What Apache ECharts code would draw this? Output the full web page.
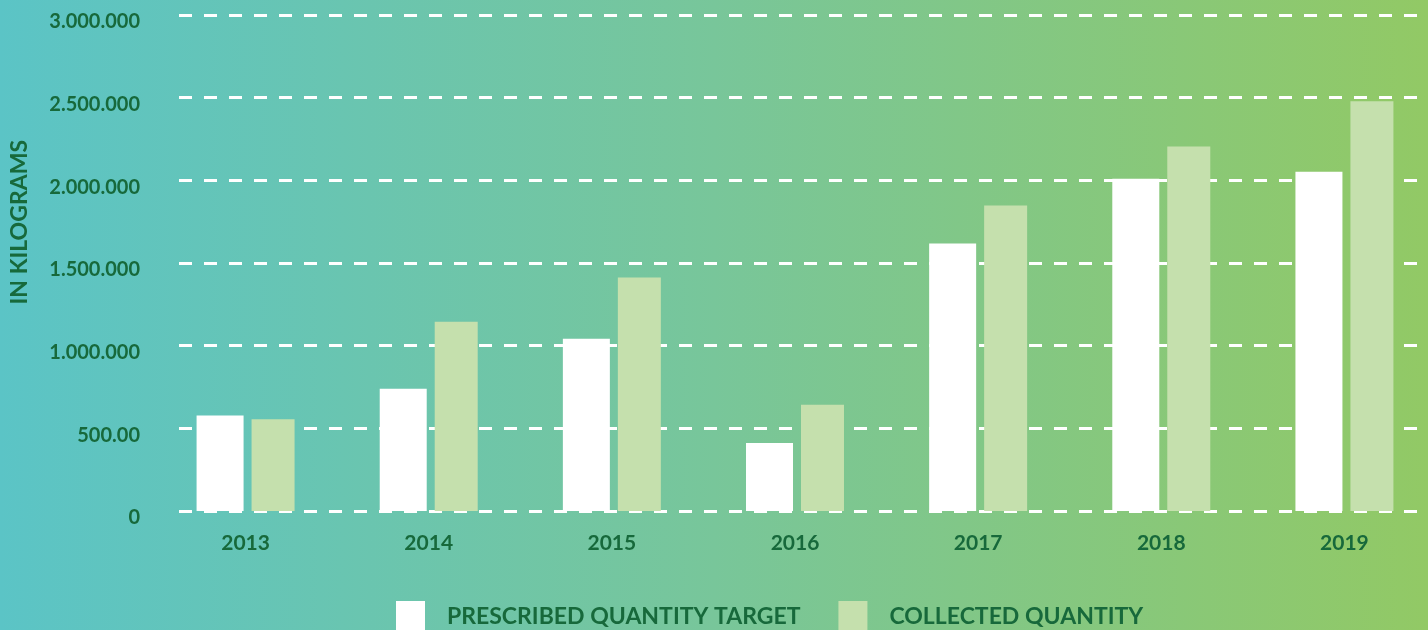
<!DOCTYPE html>
<html><head><meta charset="utf-8">
<script src="https://cdn.jsdelivr.net/npm/echarts@6/dist/echarts.min.js"></script>
<style>html,body{margin:0;padding:0;overflow:hidden;}#c{width:1428px;height:630px;}</style>
</head><body><div id="c"></div>
<script>
const years = ['2013','2014','2015','2016','2017','2018','2019'];
const prescribed = [578000, 740000, 1042000, 412000, 1618000, 2010000, 2052000];
const collected = [555000, 1145000, 1412000, 642000, 1848000, 2205000, 2478000];
const yTickLabels = ['0','500.00','1.000.000','1.500.000','2.000.000','2.500.000','3.000.000'];
const seriesNames = ['PRESCRIBED QUANTITY TARGET','COLLECTED QUANTITY'];
const axisTitle = 'IN KILOGRAMS';

const dark = '#17693b';
const font = 'Lato';
const chart = echarts.init(document.getElementById('c'));
chart.setOption({
  backgroundColor: {type:'linear', x:0, y:0, x2:1, y2:0, colorStops:[
    {offset:0, color:'#5bc4c6'}, {offset:0.5, color:'#78c69a'}, {offset:1, color:'#92c965'}]},
  animation:false,
  textStyle:{fontFamily:font},
  grid:[
    {left:154, width:1282, top:15, bottom:119, outerBoundsMode:'none', containLabel:false},
    {left:179, right:0, top:15, bottom:119, outerBoundsMode:'none'},
    {left:179, right:0, top:22, bottom:112, outerBoundsMode:'none'}
  ],
  legend:{
    data:seriesNames, left:396, top:601, itemWidth:29, itemHeight:32, itemGap:38, padding:0,
    icon:'rect',
    textStyle:{color:dark, fontFamily:font, fontWeight:'bold', fontSize:23, padding:[0,0,0,17]}
  },
  xAxis:[
    {type:'category', gridIndex:0, data:years, axisLine:{show:false}, axisTick:{show:false},
     axisLabel:{color:dark, fontFamily:font, fontWeight:'bold', fontSize:21, margin:22}},
    {type:'value', gridIndex:1, show:false, min:0, max:1},
    {type:'value', gridIndex:2, show:false, min:0, max:1}
  ],
  yAxis:[
    {type:'value', gridIndex:0, min:0, max:3000000, interval:500000, show:false, splitLine:{show:false}},
    {type:'value', gridIndex:1, min:0, max:3000000, interval:500000,
     axisLine:{show:false}, axisTick:{show:false}, axisLabel:{show:false},
     splitLine:{show:true, lineStyle:{color:'#ffffff', width:3, type:[13,12]}}},
    {type:'value', gridIndex:2, min:0, max:3000000, interval:500000,
     axisLine:{show:false}, axisTick:{show:false}, splitLine:{show:false},
     axisLabel:{color:dark, fontFamily:font, fontWeight:'bold', fontSize:20, margin:39,
       formatter:(v)=>yTickLabels[Math.round(v/500000)]}}
  ],
  graphic:[{type:'text', left:8, top:140, rotation:Math.PI/2,
    style:{text:axisTitle, fill:dark, font:'bold 23px Lato'}}],
  series:[
    {name:seriesNames[0], type:'bar', xAxisIndex:0, yAxisIndex:0, data:prescribed, barWidth:47, barGap:'17%',
     itemStyle:{color:'#ffffff'}, z:5},
    {name:seriesNames[1], type:'bar', xAxisIndex:0, yAxisIndex:0, data:collected, barWidth:43,
     itemStyle:{color:'#c5e0ad'}, z:5}
  ]
});
</script></body></html>
